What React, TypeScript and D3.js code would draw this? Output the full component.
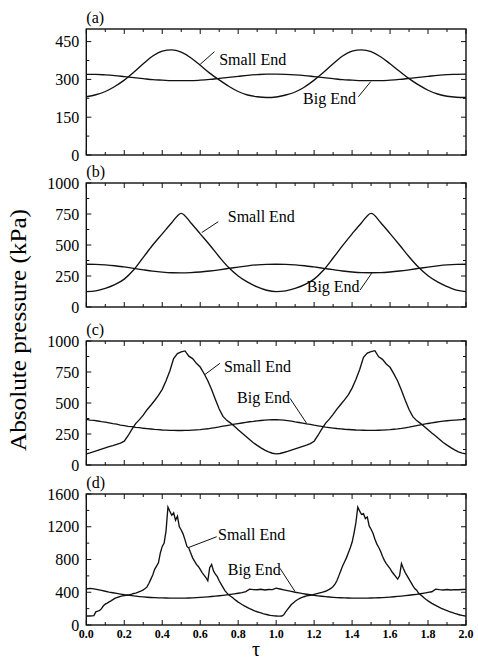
import React from 'react';
import * as d3 from 'd3';

// ---------- shared axis values ----------
const xMajorTicks = [0, 0.2, 0.4, 0.6, 0.8, 1.0, 1.2, 1.4, 1.6, 1.8, 2.0];
const xMinorTicks = [0.1, 0.3, 0.5, 0.7, 0.9, 1.1, 1.3, 1.5, 1.7, 1.9];
const xTickLabels = ['0.0', '0.2', '0.4', '0.6', '0.8', '1.0', '1.2', '1.4', '1.6', '1.8', '2.0'];

// tau grids (sampling positions of the read values)
const tau05 = d3.range(41).map((i) => i * 0.05);
const tau02 = d3.range(101).map((i) => i * 0.02);
const tau01 = d3.range(201).map((i) => i * 0.01);

// ---------- panel (a) ----------
const aYMajor = [0, 150, 300, 450];
const aYMinor = [75, 225, 375];
const aYMax = 500;
const aSmall = [
  231, 239, 252, 272, 297, 328, 362, 393, 412, 417,
  408, 386, 356, 325, 298, 273, 252, 238, 231, 228,
  230, 238, 250, 270, 297, 328, 362, 393, 412, 417,
  410, 390, 362, 332, 303, 278, 257, 242, 233, 229,
  228,
];
const aBig = [
  320, 320, 318, 315, 311, 307, 303, 299, 297, 295,
  295, 295, 297, 300, 304, 308, 312, 316, 319, 321,
  321, 320, 318, 315, 311, 307, 303, 299, 297, 295,
  295, 295, 297, 300, 304, 308, 312, 316, 319, 320,
  321,
];

// ---------- panel (b) ----------
const bYMajor = [0, 250, 500, 750, 1000];
const bYMinor = [125, 375, 625, 875];
const bYMax = 1000;
const bSmall = [
  124, 130, 150, 180, 225, 300, 400, 500, 590, 680,
  755, 680, 590, 500, 405, 318, 250, 200, 162, 135,
  124, 130, 150, 180, 225, 298, 395, 495, 590, 680,
  755, 682, 592, 500, 405, 320, 252, 202, 165, 136,
  124,
];
const bBig = [
  345, 344, 340, 333, 323, 312, 300, 289, 281, 276,
  275, 277, 282, 290, 300, 311, 322, 332, 340, 344,
  345, 344, 340, 333, 323, 312, 301, 290, 282, 277,
  276, 277, 282, 290, 300, 311, 322, 332, 340, 344,
  345,
];

// ---------- panel (c) ----------
const cYMajor = [0, 250, 500, 750, 1000];
const cYMinor = [125, 375, 625, 875];
const cYMax = 1000;
const cSmall = [
  90, 98, 108, 118, 128, 138, 148, 156, 166, 176,
  192, 236, 288, 334, 366, 402, 446, 482, 520, 562,
  610, 680, 758, 858, 898, 912, 920, 878, 858, 820,
  790, 738, 680, 608, 528, 452, 392, 360, 338, 312,
  284, 258, 232, 205, 180, 158, 138, 120, 105, 95,
  90,
  93, 101, 110, 120, 130, 140, 150, 160, 172, 192,
  238, 290, 336, 370, 408, 450, 488, 525, 565, 620,
  690, 770, 868, 902, 915, 922, 872, 852, 815, 788,
  735, 678, 602, 522, 448, 390, 358, 336, 310, 284,
  258, 234, 207, 182, 160, 140, 122, 106, 96, 90,
];
const cBig = [
  368, 362, 360, 355, 350, 346, 340, 334, 329, 322,
  318, 312, 309, 304, 301, 296, 293, 290, 287, 285,
  282, 281, 279, 279, 278, 278, 279, 279, 281, 283,
  285, 289, 292, 297, 302, 307, 313, 318, 323, 329,
  334, 339, 344, 349, 352, 356, 359, 362, 364, 365,
  366,
  364, 362, 358, 354, 348, 343, 338, 332, 327, 321,
  316, 311, 306, 302, 298, 294, 291, 288, 286, 284,
  282, 281, 280, 279, 279, 279, 280, 281, 283, 285,
  288, 291, 295, 300, 305, 311, 317, 323, 329, 335,
  340, 345, 350, 354, 357, 360, 362, 364, 366, 368,
];

// ---------- panel (d) ----------
const dYMajor = [0, 400, 800, 1200, 1600];
const dYMinor = [200, 600, 1000, 1400];
const dYMax = 1600;
const dSmall = [
  110, 110, 110, 112, 115, 160, 168, 178, 200, 235,
  255, 268, 282, 295, 310, 325, 335, 342, 350, 355,
  360, 362, 366, 372, 378, 385, 390, 398, 408, 418,
  430, 445, 465, 510, 560, 610, 680, 720, 760, 880,
  960, 1000, 1150, 1440, 1390, 1340, 1370, 1280, 1330, 1200,
  1160, 1110, 1040, 960, 940, 880, 820, 780, 740, 715,
  680, 640, 610, 580, 540, 700, 740, 660, 620, 590,
  540, 500, 460, 420, 392, 370, 352, 335, 315, 298,
  280, 265, 250, 236, 224, 212, 200, 190, 180, 170,
  162, 155, 148, 140, 134, 128, 122, 118, 115, 112,
  110, 108, 108, 110, 125, 160, 190, 220, 250, 270,
  290, 305, 320, 330, 340, 348, 355, 360, 363, 368,
  374, 380, 386, 392, 398, 405, 412, 422, 435, 450,
  470, 500, 540, 600, 660, 720, 770, 820, 880, 940,
  1010, 1120, 1250, 1440, 1390, 1350, 1360, 1300, 1320, 1210,
  1170, 1120, 1050, 990, 950, 900, 840, 790, 750, 720,
  690, 650, 620, 590, 560, 600, 750, 690, 640, 600,
  560, 520, 480, 445, 425, 390, 370, 350, 330, 312,
  295, 280, 265, 252, 240, 228, 215, 204, 194, 184,
  175, 166, 158, 150, 142, 135, 128, 122, 117, 113,
  110,
];
const dBig = [
  440, 448, 442, 432, 422, 412, 402, 394, 386, 378,
  370, 364, 358, 352, 347, 343, 339, 336, 334, 332,
  331, 330, 329, 328, 328, 328, 329, 330, 332, 334,
  337, 340, 344, 348, 352, 357, 362, 368, 374, 381,
  388, 396, 408, 438, 432, 430, 436, 428, 434, 432,
  450,
  440, 430, 420, 410, 400, 392, 384, 376, 369, 362,
  356, 351, 346, 342, 338, 335, 333, 331, 330, 329,
  328, 328, 328, 329, 330, 331, 333, 335, 338, 341,
  345, 349, 353, 358, 363, 369, 375, 382, 390, 398,
  406, 438, 432, 428, 434, 428, 432, 430, 434, 436,
];

const seriesNames = ['Small End', 'Big End'];

// ---------- layout ----------
const W = 478;
const H = 661;
const PLOT_LEFT = 86.3;
const PLOT_RIGHT = 466;
const FONT = 'Liberation Serif';

type Ann = { text: [number, number]; from: [number, number]; to: [number, number] };

const panels = [
  {
    label: '(a)', top: 29, bottom: 155, yMax: aYMax, yMajor: aYMajor, yMinor: aYMinor,
    small: { tau: tau05, v: aSmall }, big: { tau: tau05, v: aBig }, smooth: true,
    annSmall: { text: [0.70, 357], from: [0.60, 360], to: [0.675, 410] } as Ann,
    annBig: { text: [1.142, 202], from: [1.433, 231], to: [1.498, 291] } as Ann,
  },
  {
    label: '(b)', top: 183, bottom: 307, yMax: bYMax, yMajor: bYMajor, yMinor: bYMinor,
    small: { tau: tau05, v: bSmall }, big: { tau: tau05, v: bBig }, smooth: true,
    annSmall: { text: [0.745, 685], from: [0.608, 600], to: [0.695, 688] } as Ann,
    annBig: { text: [1.161, 121], from: [1.442, 137], to: [1.503, 272] } as Ann,
  },
  {
    label: '(c)', top: 341, bottom: 465, yMax: cYMax, yMajor: cYMajor, yMinor: cYMinor,
    small: { tau: tau02, v: cSmall }, big: { tau: tau02, v: cBig }, smooth: false,
    annSmall: { text: [0.725, 750], from: [0.625, 730], to: [0.704, 820] } as Ann,
    annBig: { text: [0.794, 496], from: [1.073, 538], to: [1.161, 335] } as Ann,
  },
  {
    label: '(d)', top: 494, bottom: 625, yMax: dYMax, yMajor: dYMajor, yMinor: dYMinor,
    small: { tau: tau01, v: dSmall }, big: { tau: tau02, v: dBig }, smooth: false,
    annSmall: { text: [0.694, 1038], from: [0.537, 945], to: [0.687, 1078] } as Ann,
    annBig: { text: [0.745, 611], from: [1.02, 693], to: [1.099, 410] } as Ann,
    xLabels: true,
  },
];

function Panel({ p }: { p: any }) {
  const x = d3.scaleLinear().domain([0, 2]).range([PLOT_LEFT, PLOT_RIGHT]);
  const y = d3.scaleLinear().domain([0, p.yMax]).range([p.bottom, p.top]);
  const line = d3
    .line<[number, number]>()
    .x((d) => x(d[0]))
    .y((d) => y(d[1]))
    .curve(p.smooth ? d3.curveMonotoneX : d3.curveLinear);
  const smallPts = p.small.tau.map((t: number, i: number) => [t, p.small.v[i]] as [number, number]);
  const bigPts = p.big.tau.map((t: number, i: number) => [t, p.big.v[i]] as [number, number]);
  const MAJ = 5;
  const MIN = 3;
  const stroke = '#111';
  const txt = { fontFamily: FONT, fontSize: 16 };
  const anns: [Ann, string][] = [
    [p.annSmall, seriesNames[0]],
    [p.annBig, seriesNames[1]],
  ];
  return (
    <g>
      <text x={x(0)} y={p.top - 6} style={txt} fill="#000">
        {p.label}
      </text>
      <path d={line(bigPts) || ''} fill="none" stroke={stroke} strokeWidth={1.35} />
      <path d={line(smallPts) || ''} fill="none" stroke={stroke} strokeWidth={1.35} />
      {xMajorTicks.map((t) => (
        <g key={'xM' + t}>
          <line x1={x(t)} x2={x(t)} y1={p.bottom} y2={p.bottom - MAJ} stroke={stroke} strokeWidth={1} />
          <line x1={x(t)} x2={x(t)} y1={p.top} y2={p.top + MAJ} stroke={stroke} strokeWidth={1} />
        </g>
      ))}
      {xMinorTicks.map((t) => (
        <g key={'xm' + t}>
          <line x1={x(t)} x2={x(t)} y1={p.bottom} y2={p.bottom - MIN} stroke={stroke} strokeWidth={1} />
          <line x1={x(t)} x2={x(t)} y1={p.top} y2={p.top + MIN} stroke={stroke} strokeWidth={1} />
        </g>
      ))}
      {p.yMajor.map((v: number) => (
        <g key={'yM' + v}>
          <line x1={PLOT_LEFT} x2={PLOT_LEFT + MAJ} y1={y(v)} y2={y(v)} stroke={stroke} strokeWidth={1} />
          <line x1={PLOT_RIGHT} x2={PLOT_RIGHT - MAJ} y1={y(v)} y2={y(v)} stroke={stroke} strokeWidth={1} />
          <text x={PLOT_LEFT - 7} y={y(v)} dy="0.35em" textAnchor="end" style={txt} fill="#000">
            {v}
          </text>
        </g>
      ))}
      {p.yMinor.map((v: number) => (
        <g key={'ym' + v}>
          <line x1={PLOT_LEFT} x2={PLOT_LEFT + MIN} y1={y(v)} y2={y(v)} stroke={stroke} strokeWidth={1} />
          <line x1={PLOT_RIGHT} x2={PLOT_RIGHT - MIN} y1={y(v)} y2={y(v)} stroke={stroke} strokeWidth={1} />
        </g>
      ))}
      <rect
        x={PLOT_LEFT}
        y={p.top}
        width={PLOT_RIGHT - PLOT_LEFT}
        height={p.bottom - p.top}
        fill="none"
        stroke={stroke}
        strokeWidth={1.4}
      />
      {anns.map(([a, name]) => (
        <g key={name}>
          <line
            x1={x(a.from[0])}
            y1={y(a.from[1])}
            x2={x(a.to[0])}
            y2={y(a.to[1])}
            stroke={stroke}
            strokeWidth={1}
          />
          <text x={x(a.text[0])} y={y(a.text[1])} style={txt} fill="#000">
            {name}
          </text>
        </g>
      ))}
      {p.xLabels &&
        xMajorTicks.map((t, i) => (
          <text
            key={'xl' + t}
            x={x(t)}
            y={p.bottom + 13}
            textAnchor="middle"
            style={{ fontFamily: FONT, fontSize: 12, fontWeight: 'bold' }}
            fill="#000"
          >
            {xTickLabels[i]}
          </text>
        ))}
    </g>
  );
}

export default function App() {
  return (
    <svg
      width={W}
      height={H}
      viewBox={`0 0 ${W} ${H}`}
      style={{ position: 'absolute', left: 0, top: 0, background: '#fff', fontFamily: FONT }}
    >
      <rect x={0} y={0} width={W} height={H} fill="#fff" />
      {panels.map((p) => (
        <Panel key={p.label} p={p} />
      ))}
      <text
        transform="translate(26,330) rotate(-90)"
        textAnchor="middle"
        textLength={242}
        lengthAdjust="spacingAndGlyphs"
        style={{ fontFamily: FONT, fontSize: 23 }}
        fill="#000"
      >
        Absolute pressure (kPa)
      </text>
      <text x={256} y={656} textAnchor="middle" style={{ fontFamily: FONT, fontSize: 20 }} fill="#000">
        τ
      </text>
    </svg>
  );
}
